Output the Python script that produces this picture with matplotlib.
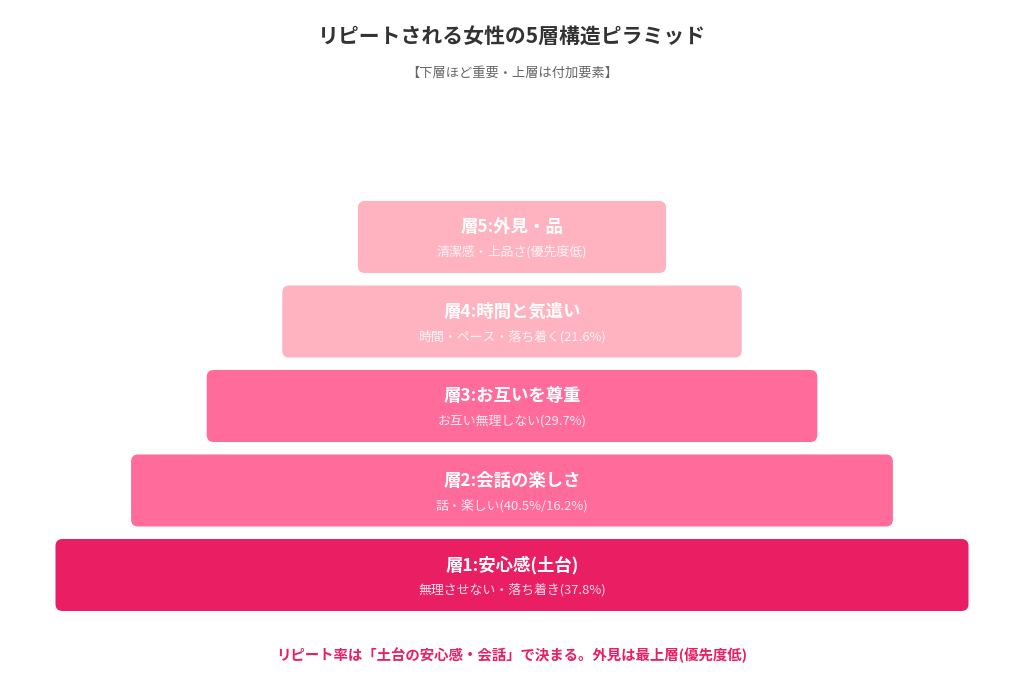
import matplotlib.pyplot as plt
from matplotlib.patches import FancyBboxPatch

plt.rcParams['font.family'] = ['Noto Sans CJK JP', 'DejaVu Sans']

# data, bottom layer first
layer_titles = ['層1:安心感(土台)', '層2:会話の楽しさ', '層3:お互いを尊重',
                '層4:時間と気遣い', '層5:外見・品']
layer_notes = ['無理させない・落ち着き(37.8%)', '話・楽しい(40.5%/16.2%)',
               'お互い無理しない(29.7%)', '時間・ペース・落ち着く(21.6%)',
               '清潔感・上品さ(優先度低)']
layer_colors = ['#E91E63', '#FF6B9A', '#FF6B9A', '#FFB3C1', '#FFB3C1']

title = 'リピートされる女性の5層構造ピラミッド'
subtitle = '【下層ほど重要・上層は付加要素】'
footer = 'リピート率は「土台の安心感・会話」で決まる。外見は最上層(優先度低)'

W, H = 1024, 695
fig = plt.figure(figsize=(W / 100, H / 100), dpi=100)
ax = fig.add_axes([0, 0, 1, 1])
ax.set_xlim(0, W)
ax.set_ylim(H, 0)
ax.axis('off')

cx = 512
base_w, step_w = 913, 151.2
box_h, step_y = 72, 84.5
bottom_top = 539
r = 7

for i, (t, n, c) in enumerate(zip(layer_titles, layer_notes, layer_colors)):
    w = base_w - step_w * i
    y0 = bottom_top - step_y * i
    box = FancyBboxPatch((cx - w / 2 + r, y0 + r), w - 2 * r, box_h - 2 * r,
                         boxstyle='round,pad=%d' % r, fc=c, ec='none')
    ax.add_patch(box)
    yc = y0 + box_h / 2
    ax.text(cx, yc - 10, t, ha='center', va='center', color='white',
            fontsize=12.5, fontweight='bold')
    ax.text(cx, yc + 15, n, ha='center', va='center', color='white',
            alpha=0.85, fontsize=9.3)

ax.text(cx, 36, title, ha='center', va='center', color='#333333',
        fontsize=15, fontweight='bold')
ax.text(cx, 73, subtitle, ha='center', va='center', color='#666666',
        fontsize=9.5)
ax.text(cx, 655, footer, ha='center', va='center', color='#E91E63',
        fontsize=10.4, fontweight='bold')

fig.savefig('out.png', dpi=100, facecolor='white')
